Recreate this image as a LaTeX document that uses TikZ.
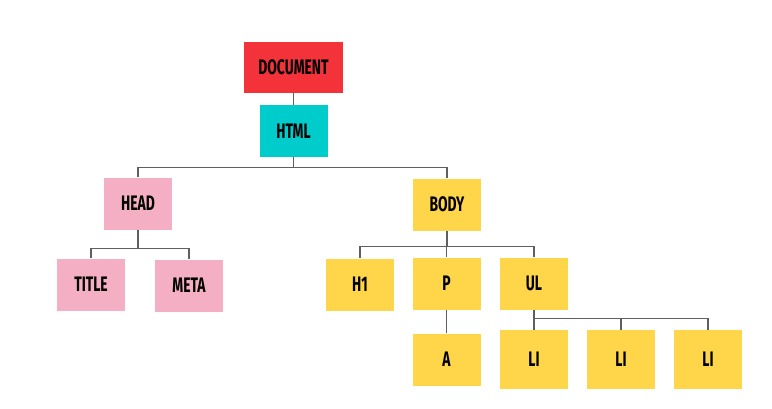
\documentclass[tikz,border=0pt]{standalone}
\usepackage{fontspec}
\setmainfont{Fira Sans}[FakeStretch=0.66]
\definecolor{docred}{RGB}{243,50,58}
\definecolor{htmlteal}{RGB}{0,204,204}
\definecolor{headpink}{RGB}{244,175,196}
\definecolor{bodyyellow}{RGB}{255,214,74}
\definecolor{linkgray}{RGB}{95,95,95}
\tikzset{
  tag/.style={minimum width=68pt,minimum height=52pt,inner sep=0pt,
    font=\fontsize{21}{21}\selectfont\bfseries},
  link/.style={draw=linkgray,line width=1.4pt}
}
\begin{document}
\begin{tikzpicture}[x=1pt,y=-1pt]
\useasboundingbox[fill=white] (0,0) rectangle (772,408);

% Root and html
\node[tag,fill=docred,minimum width=99pt,minimum height=51pt] (document) at (293.5,67.5) {DOCUMENT};
\node[tag,fill=htmlteal] (html) at (293.5,131) {HTML};

% Head branch
\node[tag,fill=headpink] (head) at (138,203.5) {HEAD};
\node[tag,fill=headpink] (title) at (91,284.5) {TITLE};
\node[tag,fill=headpink] (meta) at (189,285.5) {META};

% Body branch
\node[tag,fill=bodyyellow] (body) at (447,204.5) {BODY};
\node[tag,fill=bodyyellow] (h1) at (360,284.5) {H1};
\node[tag,fill=bodyyellow] (p) at (446.5,283.5) {P};
\node[tag,fill=bodyyellow] (ul) at (534,283.5) {UL};
\node[tag,fill=bodyyellow] (a) at (446.5,359.5) {A};
\node[tag,fill=bodyyellow,minimum height=59pt] (li1) at (534,359.5) {LI};
\node[tag,fill=bodyyellow,minimum height=59pt] (li2) at (621,359.5) {LI};
\node[tag,fill=bodyyellow,minimum height=59pt] (li3) at (708,359.5) {LI};

% Connectors
\draw[link] (document.south) -- (html.north);
\draw[link] (html.south) -- ++(0,10) coordinate (htmlbar);
\foreach \c in {head,body} \draw[link] (htmlbar) -| (\c.north);
\draw[link] (head.south) -- ++(0,19) coordinate (headbar);
\foreach \c in {title,meta} \draw[link] (headbar) -| (\c.north);
\draw[link] (body.south) -- ++(0,16) coordinate (bodybar);
\foreach \c in {h1,p,ul} \draw[link] (bodybar) -| (\c.north);
\draw[link] (p.south) -- (a.north);
\draw[link] (ul.south) -- ++(0,9) coordinate (ulbar);
\foreach \c in {li1,li2,li3} \draw[link] (ulbar) -| (\c.north);
\end{tikzpicture}
\end{document}
